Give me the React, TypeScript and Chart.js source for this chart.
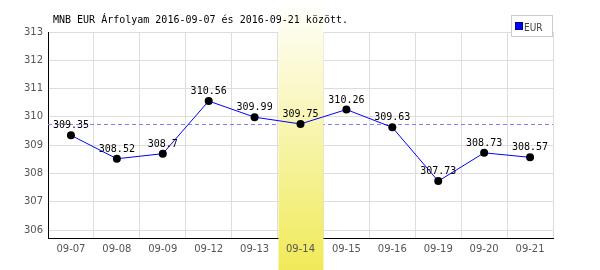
import React, { useEffect, useRef } from "react";
import { Chart, registerables } from "chart.js";

Chart.register(...registerables);

const TITLE = "MNB EUR Árfolyam 2016-09-07 és 2016-09-21 között.";
const SERIES_NAME = "EUR";
const categories = ["09-07", "09-08", "09-09", "09-12", "09-13", "09-14", "09-15", "09-16", "09-19", "09-20", "09-21"];
const rates = [309.35, 308.52, 308.7, 310.56, 309.99, 309.75, 310.26, 309.63, 307.73, 308.73, 308.57];
const rateLabels = ["309.35", "308.52", "308.7", "310.56", "309.99", "309.75", "310.26", "309.63", "307.73", "308.73", "308.57"];
const HIGHLIGHT_INDEX = 5;
const REFERENCE_RATE = 309.75;
const Y_MIN = 305.72;
const Y_MAX = 313;

export default function App() {
  const ref = useRef<HTMLCanvasElement | null>(null);

  useEffect(() => {
    if (!ref.current) return;

    const overlay = {
      id: "overlay",
      beforeDatasetsDraw(chart: any) {
        const { ctx, chartArea, scales } = chart;
        const y = scales.y;
        const x = scales.x;
        const ry = Math.round(y.getPixelForValue(REFERENCE_RATE)) + 0.5;
        ctx.save();
        ctx.strokeStyle = "#8080ff";
        ctx.lineWidth = 1;
        ctx.setLineDash([4, 3]);
        ctx.beginPath();
        ctx.moveTo(chartArea.left, ry);
        ctx.lineTo(chartArea.right, ry);
        ctx.stroke();
        ctx.restore();
        const w = (x.right - x.left) / categories.length;
        const cx = x.getPixelForValue(HIGHLIGHT_INDEX);
        const g = ctx.createLinearGradient(0, 0, 0, chart.height);
        g.addColorStop(0, "#ffffff");
        g.addColorStop(1, "#f0ea58");
        ctx.save();
        ctx.fillStyle = g;
        ctx.fillRect(Math.round(cx - w / 2) + 0.5, 0, Math.round(w) - 1, chart.height);
        ctx.restore();
      },
      afterDatasetsDraw(chart: any) {
        const { ctx } = chart;
        const meta = chart.getDatasetMeta(0);
        ctx.save();
        ctx.font = "10px 'DejaVu Sans Mono'";
        ctx.fillStyle = "#000";
        ctx.textAlign = "center";
        ctx.textBaseline = "alphabetic";
        meta.data.forEach((pt: any, i: number) => {
          ctx.fillText(rateLabels[i], pt.x, pt.y - 7);
        });
        ctx.restore();
      },
      afterDraw(chart: any) {
        const { ctx } = chart;
        ctx.save();
        ctx.font = "10px 'DejaVu Sans Mono'";
        ctx.fillStyle = "#000";
        ctx.textAlign = "left";
        ctx.textBaseline = "alphabetic";
        ctx.fillText(TITLE, 53, 23);
        ctx.fillStyle = "#fff";
        ctx.fillRect(511.5, 15.5, 41, 21);
        ctx.strokeStyle = "#cccccc";
        ctx.lineWidth = 1;
        ctx.strokeRect(511.5, 15.5, 41, 21);
        ctx.fillStyle = "#0000ff";
        ctx.fillRect(516, 23, 6, 6);
        ctx.strokeStyle = "#000080";
        ctx.strokeRect(515.5, 22.5, 7, 7);
        ctx.fillStyle = "#444";
        ctx.font = "10px 'Liberation Sans Narrow', 'DejaVu Sans Condensed', 'DejaVu Sans'";
        ctx.fillText(SERIES_NAME, 524, 30.5);
        ctx.restore();
      },
    };

    const chart = new Chart(ref.current, {
      type: "line",
      data: {
        labels: categories,
        datasets: [
          {
            label: SERIES_NAME,
            data: rates,
            borderColor: "#0000ff",
            borderWidth: 1,
            pointRadius: 4,
            pointBackgroundColor: "#000",
            pointBorderColor: "#000",
            pointBorderWidth: 0,
            tension: 0,
            fill: false,
          },
        ],
      },
      options: {
        responsive: false,
        animation: false,
        layout: { padding: { top: 32, right: 47, left: 0, bottom: 0 } },
        plugins: {
          legend: { display: false },
          title: { display: false },
          tooltip: { enabled: false },
        },
        scales: {
          x: {
            type: "category",
            offset: true,
            grid: { offset: true, color: "#dddddd", drawTicks: false },
            border: { color: "#000", width: 1 },
            ticks: {
              z: 1,
              color: "#555",
              font: { family: "'DejaVu Sans'", size: 10 },
              padding: 5,
              maxRotation: 0,
              autoSkip: false,
            },
            afterFit(scale: any) {
              scale.height = 32;
            },
          },
          y: {
            min: Y_MIN,
            max: Y_MAX,
            grid: { color: "#dddddd", drawTicks: false },
            border: { color: "#000", width: 1 },
            ticks: {
              stepSize: 1,
              includeBounds: false,
              color: "#555",
              font: { family: "'DejaVu Sans'", size: 10 },
              padding: 5,
            },
            afterBuildTicks(scale: any) {
              scale.ticks = scale.ticks.filter((t: any) => Number.isInteger(t.value));
            },
            afterFit(scale: any) {
              scale.width = 48;
            },
          },
        },
      },
      plugins: [overlay],
    } as any);

    return () => chart.destroy();
  }, []);

  return (
    <div style={{ position: "absolute", left: 0, top: 0, width: 600, height: 270, background: "#fff" }}>
      <canvas ref={ref} width={600} height={270} style={{ width: 600, height: 270, display: "block" }} />
    </div>
  );
}
